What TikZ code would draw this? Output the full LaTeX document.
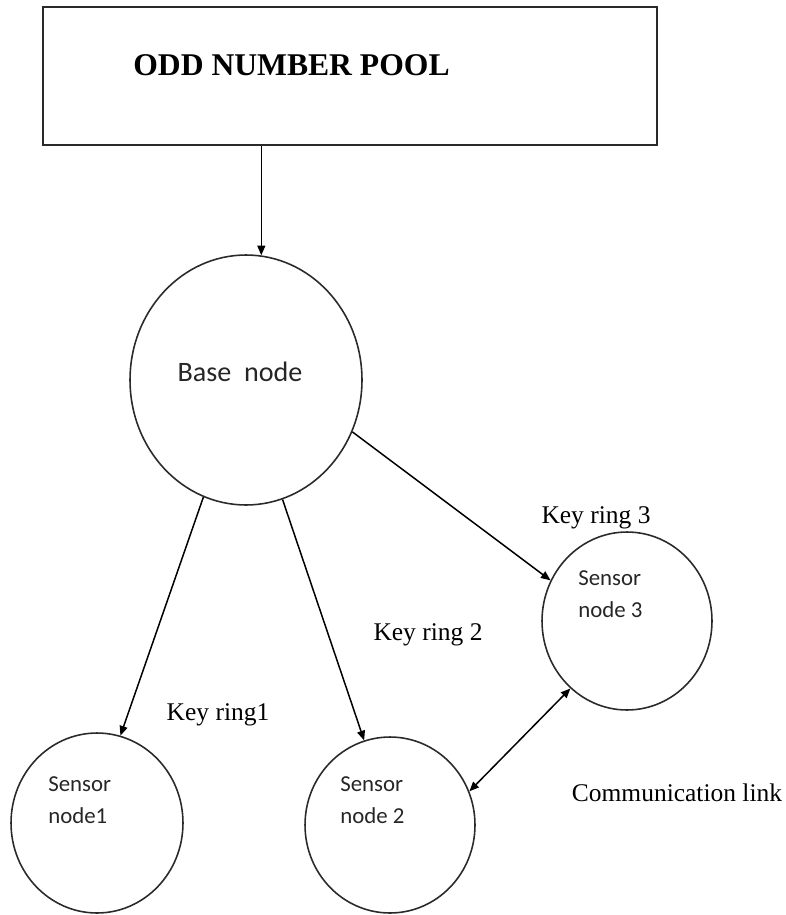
\documentclass[tikz,border=0pt]{standalone}
\usepackage{fontspec}
\setmainfont{Liberation Serif}
\newfontfamily\calfont{Carlito}
\usetikzlibrary{shapes.geometric,arrows.meta}
\definecolor{linegray}{HTML}{2A2A2A}
\begin{document}
\begin{tikzpicture}[x=0.02cm,y=-0.02cm,
  sensorbox/.style={draw=linegray,line width=0.9pt,ellipse,inner sep=0pt},
  tiparrow/.style={draw=black,line width=0.85pt,-{Triangle[length=5.5pt,width=4.5pt]}},
  dualarrow/.style={draw=black,line width=0.85pt,{Triangle[length=5.5pt,width=4.5pt]}-{Triangle[length=5.5pt,width=4.5pt]}},
  serlabel/.style={font=\fontsize{14.5}{17}\selectfont,inner sep=0pt},
  callabel/.style={font=\calfont\fontsize{13}{18.5}\selectfont,align=left,inner sep=0pt,anchor=west,text=black!85}]
\useasboundingbox (0,0) rectangle (786,915);
\node[draw=linegray,line width=0.9pt,minimum width=12.28cm,minimum height=2.76cm,inner sep=0pt] (pool) at (350,76) {};
\node[font=\bfseries\fontsize{18}{20}\selectfont,anchor=west,inner sep=0pt] (pooltext) at (133,65) {ODD NUMBER POOL};

\node[sensorbox,minimum width=4.64cm,minimum height=5.0cm] (base) at (246,380) {};
\node[font=\calfont\fontsize{16}{18}\selectfont,inner sep=0pt,text=black!85] (basetext) at (240,372) {Base~ node};

\node[sensorbox,minimum width=3.44cm,minimum height=3.6cm] (s1) at (97,823) {};
\node[sensorbox,minimum width=3.4cm,minimum height=3.52cm] (s2) at (390,825) {};
\node[sensorbox,minimum width=3.4cm,minimum height=3.56cm] (s3) at (627,621) {};

\node[callabel] (s1text) at (48,800) {Sensor\\node1};
\node[callabel] (s2text) at (340,800) {Sensor\\node 2};
\node[callabel] (s3text) at (578,594) {Sensor\\node 3};

\node[serlabel] (k3) at (596,518) {Key ring 3};
\node[serlabel] (k2) at (428,635) {Key ring 2};
\node[serlabel] (k1) at (218,715) {Key ring1};
\node[serlabel] (comm) at (677,793) {Communication link};

\draw[tiparrow] (pool.south -| base.83) -- (base.83);
\draw[tiparrow] (base.250.7) -- (s1.75.3);
\draw[tiparrow] (base.287.5) -- (s2.107.9);
\draw[tiparrow] (base.334) -- (s3.152);
\draw[dualarrow] (s3.230) -- (s2.23.5);
\end{tikzpicture}
\end{document}
